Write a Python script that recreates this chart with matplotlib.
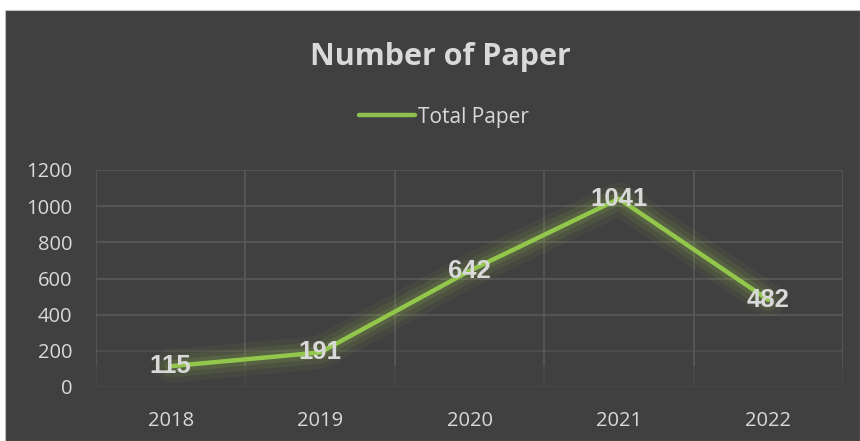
import matplotlib
matplotlib.use("Agg")
import matplotlib.pyplot as plt
import matplotlib.patheffects as pe
from matplotlib.patches import Rectangle

years = ["2018", "2019", "2020", "2021", "2022"]
total_paper = [115, 191, 642, 1041, 482]
y_ticks = [0, 200, 400, 600, 800, 1000, 1200]

BG = "#404040"
GRID = "#595959"
TXT = "#d9d9d9"
GREEN = "#92c74b"

W, H = 860, 441
fig = plt.figure(figsize=(W / 100, H / 100), dpi=100, facecolor="white")
fig.patches.append(Rectangle((5 / W, 0), 1 - 5 / W, 1 - 10 / H, transform=fig.transFigure,
                             facecolor=BG, edgecolor="#bfbfbf", linewidth=0.8, zorder=-10))

ax = fig.add_axes([96 / W, 1 - 387 / H, (843 - 96) / W, (387 - 170) / H])
ax.set_facecolor(BG)
ax.patch.set_alpha(0)
x = list(range(len(years)))
ax.set_xlim(-0.5, len(years) - 0.5)
ax.set_ylim(0, 1200)

# gridlines (fading toward the bottom like the original)
for t in y_ticks:
    a = 1.0 if t >= 400 else (0.55 if t == 200 else 0.25)
    ax.axhline(t, color=GRID, lw=1.2, alpha=a, zorder=1)
for b in [i - 0.5 for i in range(len(years) + 1)]:
    ax.axvline(b, color=GRID, lw=1.2, zorder=1, ymin=0.1)
    ax.axvline(b, color=GRID, lw=1.2, zorder=1, ymax=0.1, alpha=0.3)

glow = [pe.Stroke(linewidth=24, foreground="#a4c84e", alpha=0.06),
        pe.Stroke(linewidth=16, foreground="#a4c84e", alpha=0.09),
        pe.Stroke(linewidth=9, foreground=GREEN, alpha=0.14),
        pe.Normal()]
ax.plot(x, total_paper, color=GREEN, lw=3.2, solid_capstyle="round",
        label="Total Paper", zorder=3, path_effects=glow)

for xi, v in zip(x, total_paper):
    ax.text(xi, v, str(v), ha="center", va="center", color=TXT, fontsize=18.5,
            fontweight="bold", family="Liberation Sans", zorder=4)

ax.set_xticks(x)
ax.set_xticklabels(years)
ax.set_yticks(y_ticks)
ax.tick_params(length=0, colors=TXT, labelsize=14.5, pad=17)
ax.tick_params(axis="x", pad=17)
for lab in ax.get_xticklabels() + ax.get_yticklabels():
    lab.set_family("Open Sans")
for s in ax.spines.values():
    s.set_visible(False)

fig.text(440 / W, 1 - 65 / H, "Number of Paper", ha="center", va="baseline",
         color=TXT, fontsize=22, fontweight="bold", family="Open Sans")

leg = fig.legend(loc="center", bbox_to_anchor=(444 / W, 1 - 117 / H), frameon=False,
                 prop={"family": "Open Sans", "size": 15}, handlelength=2.7,
                 handletextpad=0.15, labelcolor=TXT)
for line in leg.get_lines():
    line.set_path_effects([])
    line.set_linewidth(3.2)
    line.set_color("#8fbf4f")

fig.savefig("out.png", dpi=100, facecolor="white")
